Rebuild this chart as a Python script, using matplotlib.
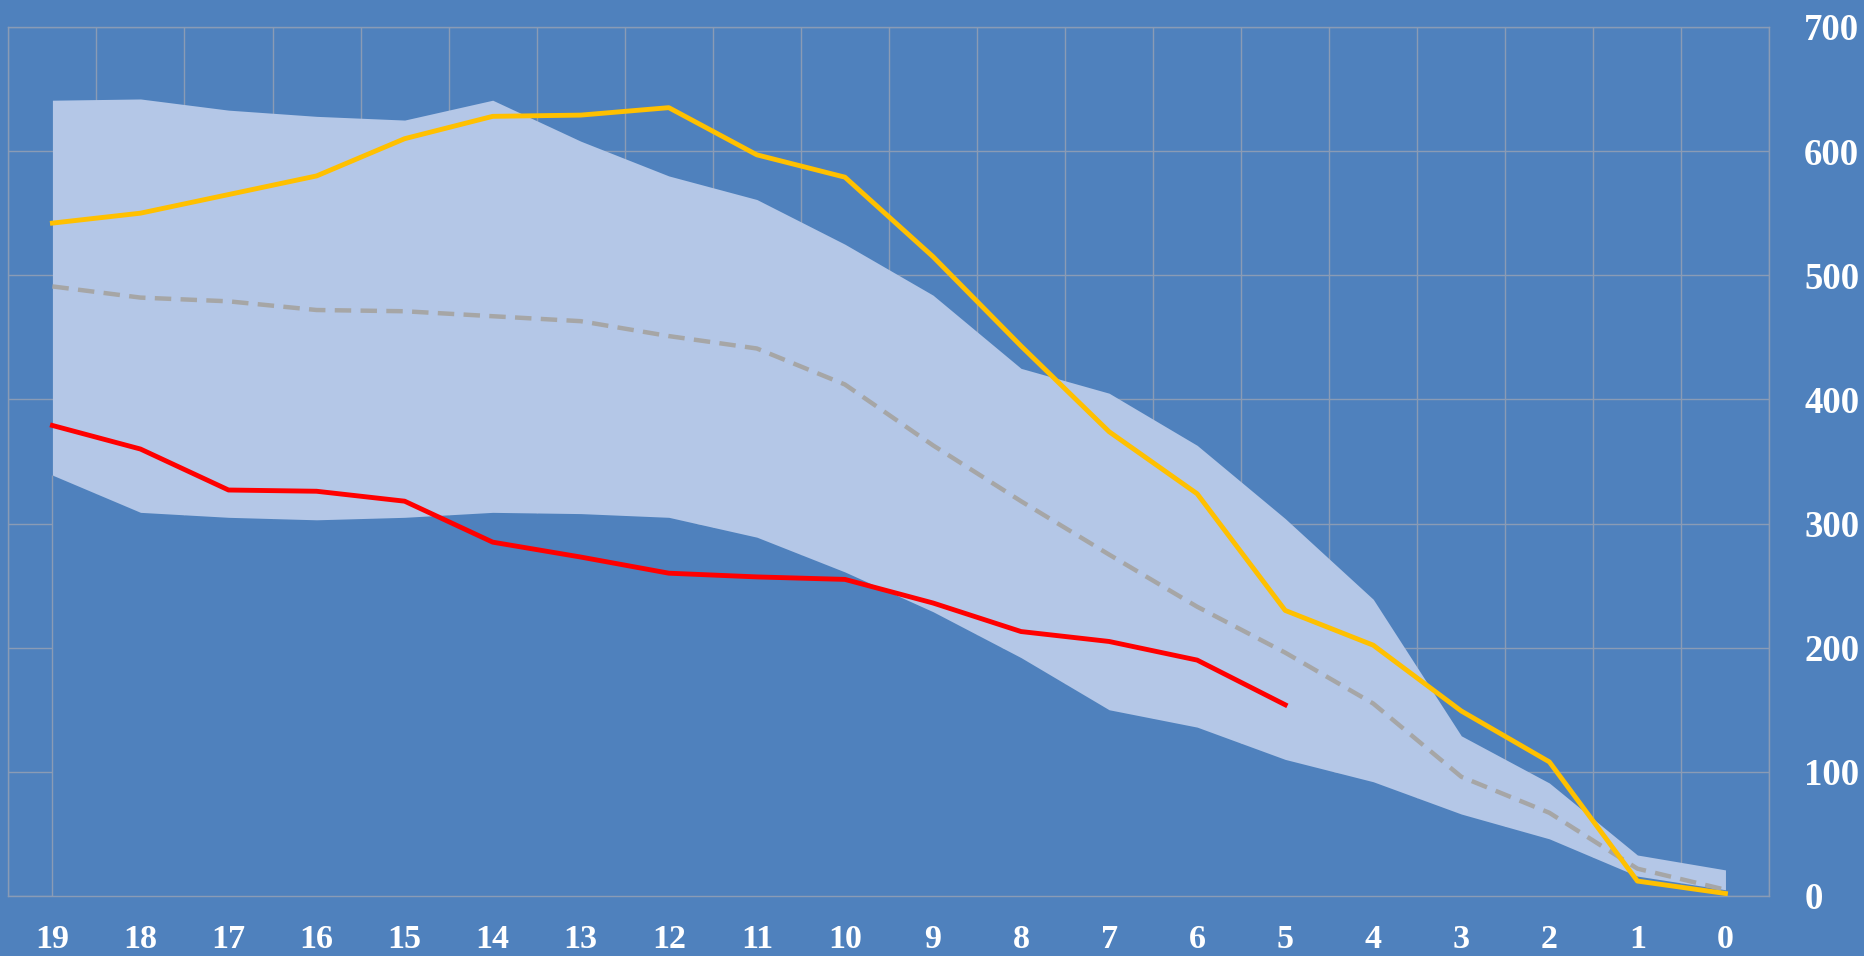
import matplotlib.pyplot as plt
import numpy as np

# categorias (eje x invertido: 19 -> 0)
cats = list(range(19, -1, -1))

# banda min / max
band_max = [641, 642, 633, 628, 625, 641, 608, 580, 561, 525,
            484, 425, 405, 363, 304, 239, 129, 91, 33, 21]
band_min = [339, 309, 305, 303, 305, 309, 308, 305, 289, 261,
            229, 192, 150, 136, 110, 92, 66, 46, 16, 5]

# series
gold = [542, 550, 565, 580, 610, 628, 629, 635, 597, 579,
        515, 443, 374, 324, 230, 202, 149, 108, 12, 2]
red = [379, 360, 327, 326, 318, 285, 273, 260, 257, 255,
       236, 213, 205, 190, 154]
median = [491, 482, 479, 472, 471, 467, 463, 451, 441, 412,
          363, 318, 275, 233, 196, 155, 96, 67, 22, 5]

y_ticks = [0, 100, 200, 300, 400, 500, 600, 700]

bg = '#4F81BD'
band_col = '#B4C7E7'
grid_col = '#8A9BB5'

fig = plt.figure(figsize=(18.64, 9.56), dpi=100, facecolor=bg)
ax = fig.add_axes([0.0045, 0.0628, 0.9448, 0.909])
ax.set_facecolor(bg)

x = np.array(cats)

# zona inferior del color del fondo (tapa la grilla) + banda clara
ax.fill_between(x, 0, band_min, color=bg, zorder=1, linewidth=0)
ax.fill_between(x, band_min, band_max, color=band_col, zorder=1, linewidth=0)
ax.vlines(cats[0], 0, band_min[0], color=grid_col, linewidth=1, zorder=1.5)

ax.plot(x, median, color='#A6A6A6', linewidth=3.2, dashes=(3.7, 2.1), zorder=2)
ax.plot(x[:len(red)], red, color='#FF0000', linewidth=3.5, zorder=3)
ax.plot(x, gold, color='#FFC000', linewidth=3.5, zorder=4)

ax.set_xlim(19.5, -0.5)
ax.set_ylim(0, 700)

ax.set_xticks(cats)
ax.set_xticks(np.arange(19.5, -1, -1), minor=True)
ax.set_yticks(y_ticks)
ax.yaxis.tick_right()

ax.grid(True, axis='y', which='major', color=grid_col, linewidth=1)
ax.grid(True, axis='x', which='minor', color=grid_col, linewidth=1)
ax.set_axisbelow(True)

for s in ax.spines.values():
    s.set_color(grid_col)
    s.set_linewidth(1)

ax.set_xticklabels([str(c) for c in cats], family='Liberation Serif',
                   weight='bold', size=24.5, color='white')
ax.set_yticklabels([str(v) for v in y_ticks], family='Liberation Serif',
                   weight='bold', size=26.5, color='white')
ax.tick_params(axis='x', which='both', length=0, pad=20)
ax.tick_params(axis='y', which='both', length=0, pad=25)

plt.savefig('out.png', dpi=100, facecolor=bg)
